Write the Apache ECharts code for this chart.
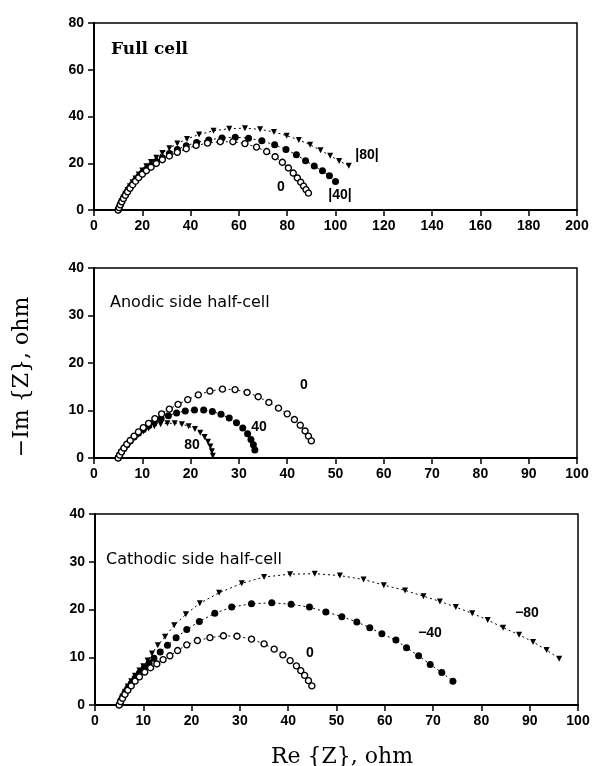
<!DOCTYPE html>
<html><head><meta charset="utf-8">
<script src="https://cdn.jsdelivr.net/npm/echarts@6/dist/echarts.min.js"></script>
<style>html,body{margin:0;padding:0;background:#fff}#c{width:596px;height:766px}</style>
</head><body><div id="c"></div>
<script>
// ---- Full cell (ohm) ----
const full_0 = [[10.0,0],[10.4,1.0],[10.9,2.2],[11.5,3.5],[12.2,4.9],[13.0,6.3],[13.9,7.8],[14.9,9.3],[16.0,10.8],[17.2,12.3],[18.5,13.8],[20.0,15.3],[21.7,16.8],[23.6,18.3],[25.8,19.9],[28.3,21.5],[31.2,23.1],[34.5,24.7],[38.2,26.2],[42.3,27.6],[47.0,28.6],[52.3,29.2],[57.5,29.2],[62.5,28.4],[67.3,26.9],[71.5,25.0],[75.0,22.8],[78.0,20.4],[80.5,18.0],[82.5,15.8],[84.2,13.7],[85.6,11.9],[86.8,10.2],[87.8,8.7],[88.8,7.2]];
const full_40 = [[10.0,0],[10.4,1.0],[10.9,2.3],[11.5,3.7],[12.2,5.1],[13.0,6.6],[13.9,8.1],[14.9,9.6],[16.0,11.1],[17.2,12.7],[18.5,14.2],[20.0,15.8],[21.7,17.4],[23.6,19.0],[25.8,20.7],[28.3,22.4],[31.2,24.2],[34.5,25.9],[38.2,27.5],[42.5,28.9],[47.5,30.0],[53.0,30.8],[58.5,31.1],[64.0,30.7],[69.5,29.6],[74.8,27.9],[79.5,25.9],[83.8,23.6],[87.6,21.1],[91.2,18.8],[94.6,16.8],[97.5,14.6],[100.0,12.2]];
const full_80 = [[10.0,0],[10.4,1.1],[10.9,2.4],[11.5,3.9],[12.2,5.4],[13.0,7.0],[13.9,8.6],[14.9,10.2],[16.0,11.9],[17.2,13.5],[18.5,15.2],[20.0,16.9],[21.7,18.7],[23.6,20.5],[25.8,22.4],[28.3,24.4],[31.2,26.4],[34.5,28.4],[38.5,30.4],[43.5,32.3],[49.5,33.9],[56.0,34.8],[62.5,35.0],[68.8,34.5],[74.5,33.4],[79.8,31.8],[84.8,30.0],[89.5,27.9],[93.8,25.6],[97.8,23.2],[101.5,21.0],[105.5,18.9]];
// ---- Anodic side half-cell ----
const ano_0 = [[5.0,0],[5.3,0.6],[5.7,1.3],[6.2,2.1],[6.8,2.9],[7.5,3.7],[8.3,4.6],[9.2,5.5],[10.2,6.4],[11.3,7.3],[12.6,8.3],[14.0,9.3],[15.6,10.3],[17.4,11.3],[19.4,12.3],[21.6,13.3],[24.0,14.1],[26.6,14.5],[29.2,14.4],[31.7,13.8],[34.0,12.9],[36.2,11.7],[38.2,10.5],[40.0,9.3],[41.5,8.1],[42.7,6.9],[43.7,5.7],[44.4,4.6],[45.0,3.6]];
const ano_40 = [[5.0,0],[5.3,0.6],[5.7,1.3],[6.2,2.0],[6.8,2.8],[7.5,3.6],[8.3,4.4],[9.2,5.2],[10.2,6.0],[11.3,6.8],[12.5,7.6],[13.9,8.3],[15.4,8.9],[17.1,9.5],[18.9,9.9],[20.8,10.1],[22.7,10.1],[24.5,9.8],[26.3,9.2],[28.0,8.4],[29.5,7.4],[30.8,6.3],[31.8,5.1],[32.5,3.9],[33.0,2.8],[33.3,1.7]];
const ano_80 = [[5.0,0],[5.3,0.6],[5.7,1.2],[6.2,1.9],[6.8,2.6],[7.5,3.4],[8.3,4.2],[9.2,4.9],[10.2,5.6],[11.3,6.2],[12.5,6.7],[13.8,7.1],[15.2,7.3],[16.7,7.3],[18.2,7.1],[19.6,6.7],[20.9,6.1],[22.0,5.3],[22.9,4.4],[23.6,3.4],[24.1,2.4],[24.4,1.4],[24.6,0.5]];
// ---- Cathodic side half-cell ----
const cat_0 = [[5.0,0],[5.3,0.7],[5.7,1.4],[6.2,2.2],[6.8,3.1],[7.5,4.0],[8.3,5.0],[9.2,5.9],[10.3,6.9],[11.5,7.8],[12.8,8.6],[14.1,9.5],[15.5,10.3],[17.1,11.4],[19.0,12.6],[21.2,13.5],[23.8,14.1],[26.6,14.5],[29.4,14.4],[32.4,13.8],[35.0,12.8],[37.1,11.7],[38.9,10.5],[40.4,9.3],[41.7,8.2],[42.6,7.2],[43.4,6.2],[44.2,5.1],[44.9,4.0]];
const cat_m40 = [[5.0,0],[5.3,0.8],[5.7,1.6],[6.2,2.5],[6.8,3.5],[7.5,4.5],[8.3,5.6],[9.2,6.7],[10.2,7.8],[11.2,8.8],[12.2,9.8],[13.5,11.1],[15.0,12.5],[16.8,14.1],[19.0,15.8],[21.6,17.5],[24.8,19.2],[28.3,20.5],[32.4,21.2],[36.6,21.4],[40.6,21.1],[44.4,20.5],[47.8,19.5],[51.1,18.5],[54.2,17.4],[56.9,16.2],[59.4,14.9],[62.3,13.6],[64.5,12.0],[67.0,10.3],[69.4,8.5],[71.8,6.8],[74.1,5.0]];
const cat_m80 = [[5.0,0],[5.3,0.9],[5.7,1.8],[6.2,2.8],[6.8,3.9],[7.5,5.0],[8.3,6.1],[9.2,7.2],[10.0,8.1],[10.9,9.3],[11.8,10.8],[13.0,12.5],[14.5,14.3],[16.4,16.7],[18.8,19.0],[21.7,21.3],[25.7,23.5],[30.4,25.5],[35.0,26.8],[40.4,27.4],[45.5,27.5],[50.7,27.1],[55.6,26.3],[59.8,25.1],[64.2,24.0],[68.0,22.8],[71.4,21.7],[74.7,20.5],[78.1,19.2],[81.3,17.8],[84.5,16.2],[87.8,14.7],[90.7,13.2],[93.5,11.5],[96.1,9.7]];

// axis ranges / tick steps
const xRanges = [[0,200,20],[0,100,10],[0,100,10]];
const yRanges = [[0,80,20],[0,40,10],[0,40,10]];
const panelTitles = ['Full cell','Anodic side half-cell','Cathodic side half-cell'];
const curveLabels = [['0','|40|','|80|'],['0','40','80'],['0','\u221240','\u221280']];

const grids = [
  {left:94, top:23, width:483, height:187},
  {left:94, top:268, width:483, height:190},
  {left:95, top:514, width:483, height:191}
].map(g => Object.assign(g, {show:true, borderColor:'#000', borderWidth:1.5, backgroundColor:'transparent'}));

const tickFont = {color:'#000', fontFamily:'Liberation Sans', fontWeight:'bold', fontSize:14};
function mkX(i){ return {gridIndex:i, type:'value', min:xRanges[i][0], max:xRanges[i][1], interval:xRanges[i][2],
  axisLine:{show:true, onZero:false, lineStyle:{color:'#000', width:2}},
  axisTick:{show:true, inside:false, length:6, lineStyle:{color:'#000', width:1.5}},
  axisLabel:Object.assign({margin:9}, tickFont), splitLine:{show:false}}; }
function mkY(i){ return {gridIndex:i, type:'value', min:yRanges[i][0], max:yRanges[i][1], interval:yRanges[i][2],
  axisLine:{show:true, onZero:false, lineStyle:{color:'#000', width:2}},
  axisTick:{show:true, inside:false, length:6, lineStyle:{color:'#000', width:1.5}},
  axisLabel:Object.assign({margin:10}, tickFont), splitLine:{show:false}}; }

const styles = {
  open:{symbol:'circle', symbolSize:6, itemStyle:{color:'#fff', borderColor:'#000', borderWidth:1.4}},
  dot:{symbol:'circle', symbolSize:7, itemStyle:{color:'#000', borderColor:'#000', borderWidth:0}},
  tri:{symbol:'triangle', symbolRotate:180, symbolSize:6, itemStyle:{color:'#000', borderColor:'#000', borderWidth:0}}
};
function mkS(data, i, st){
  return Object.assign({type:'line', xAxisIndex:i, yAxisIndex:i, data:data, showSymbol:true, smooth:false,
    lineStyle:{color:'#000', width:1, type:[2,3]}, animation:false, silent:true}, styles[st]);
}
const series = [
  mkS(full_80,0,'tri'), mkS(full_40,0,'dot'), mkS(full_0,0,'open'),
  mkS(ano_80,1,'tri'), mkS(ano_40,1,'dot'), mkS(ano_0,1,'open'),
  mkS(cat_m80,2,'tri'), mkS(cat_m40,2,'dot'), mkS(cat_0,2,'open')
];

function txt(x,y,t,font,align){
  return {type:'text', x:x, y:y, style:{text:t, font:font, fill:'#000', textAlign:align||'center', textVerticalAlign:'middle'}};
}
const lblFont = 'bold 14px "Liberation Sans"';
const graphic = [
  txt(111,50,panelTitles[0],'bold 17px "DejaVu Serif"','left'),
  txt(110,303,panelTitles[1],'16px "DejaVu Sans"','left'),
  txt(106,560,panelTitles[2],'16px "DejaVu Sans"','left'),
  txt(281,187,curveLabels[0][0],lblFont), txt(340,195,curveLabels[0][1],lblFont), txt(367,155,curveLabels[0][2],lblFont),
  txt(304,385,curveLabels[1][0],lblFont), txt(259,427,curveLabels[1][1],lblFont), txt(192,445,curveLabels[1][2],lblFont),
  txt(310,653,curveLabels[2][0],lblFont), txt(430,633,curveLabels[2][1],lblFont), txt(527,613,curveLabels[2][2],lblFont),
  txt(342,757,'Re {Z}, ohm','22px "DejaVu Serif"'),
  {type:'text', x:22, y:377, rotation:Math.PI/2, style:{text:'\u2212Im {Z}, ohm', font:'22px "DejaVu Serif"', fill:'#000', textAlign:'center', textVerticalAlign:'middle'}}
];

const chart = echarts.init(document.getElementById('c'), null, {renderer:'canvas'});
chart.setOption({
  animation:false, backgroundColor:'#fff',
  grid:grids, xAxis:[mkX(0),mkX(1),mkX(2)], yAxis:[mkY(0),mkY(1),mkY(2)],
  series:series, graphic:graphic
});
</script></body></html>
